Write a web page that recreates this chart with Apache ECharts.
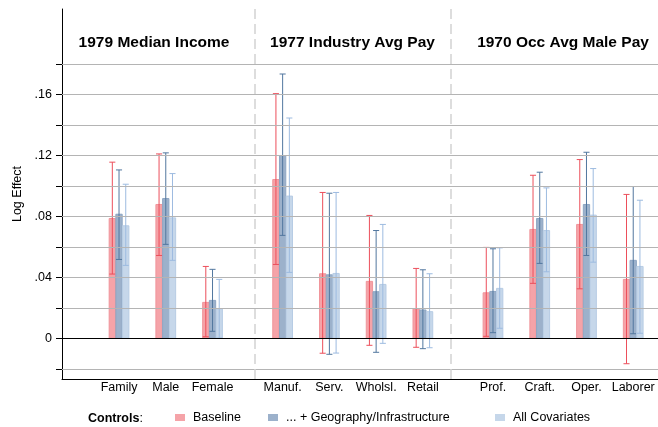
<!DOCTYPE html>
<html>
<head>
<meta charset="utf-8">
<script src="https://cdn.jsdelivr.net/npm/echarts@6/dist/echarts.min.js"></script>
<style>
  html, body { margin: 0; padding: 0; background: #fff; }
  #chart { width: 658px; height: 427px; }
</style>
</head>
<body>
<div id="chart"></div>
<script>
// categories and which panel each one sits in
const categories = ["Family", "Male", "Female", "Manuf.", "Serv.", "Wholsl.", "Retail", "Prof.", "Craft.", "Oper.", "Laborer"];
const panelOf = [0, 0, 0, 1, 1, 1, 1, 2, 2, 2, 2];
const panelTitles = ["1979 Median Income", "1977 Industry Avg Pay", "1970 Occ Avg Male Pay"];
const seriesNames = ["Baseline", "... + Geography/Infrastructure", "All Covariates"];

// point estimates
const baseline  = [0.0787, 0.0879, 0.0236, 0.1043, 0.0424, 0.0374, 0.0194, 0.0299, 0.0715, 0.0748, 0.0387];
const geography = [0.0815, 0.0918, 0.0249, 0.1200, 0.0417, 0.0306, 0.0186, 0.0308, 0.0787, 0.0879, 0.0512];
const allCov    = [0.0739, 0.0791, 0.0194, 0.0934, 0.0426, 0.0354, 0.0175, 0.0328, 0.0708, 0.0809, 0.0472];

// confidence intervals
const baselineLo  = [0.0422, 0.0544, 0.0010, 0.0485, -0.0098, -0.0046, -0.0059, 0.0013, 0.0361, 0.0325, -0.0167];
const baselineHi  = [0.1157, 0.1211, 0.0472, 0.1607, 0.0958, 0.0807, 0.0459, 0.0597, 0.1071, 0.1174, 0.0945];
const geographyLo = [0.0518, 0.0617, 0.0046, 0.0676, -0.0105, -0.0092, -0.0068, 0.0037, 0.0492, 0.0544, 0.0030];
const geographyHi = [0.1106, 0.1218, 0.0453, 0.1736, 0.0953, 0.0708, 0.0450, 0.0588, 0.1091, 0.1222, 0.0997];
const allCovLo    = [0.0479, 0.0512, 0.0001, 0.0433, -0.0097, -0.0033, -0.0062, 0.0066, 0.0437, 0.0500, 0.0033];
const allCovHi    = [0.1012, 0.1082, 0.0387, 0.1447, 0.0958, 0.0748, 0.0424, 0.0594, 0.0988, 0.1115, 0.0907];

// y axis ticks / labels
const yTicks = [-0.02, 0, 0.02, 0.04, 0.06, 0.08, 0.10, 0.12, 0.14, 0.16, 0.18];
const yLabels = [0, 0.04, 0.08, 0.12, 0.16];

const FONT = '"Liberation Sans", Arial, sans-serif';
const BAR_W = 0.135;   // in category units
const CAP_W = 0.13;
const STEP = 0.1436;

// x position: one unit per category, half a unit extra between panels
const xPos = categories.map((c, i) => i + 0.5 * panelOf[i]);

function rows(vals, lo, hi) {
  return vals.map((v, i) => [xPos[i], v, lo[i], hi[i]]);
}

function makeRender(offset, fill, stroke, whisker) {
  return function (params, api) {
    const x = api.value(0) + offset;
    const top = api.coord([x, api.value(1)]);
    const base = api.coord([x, 0]);
    const lo = api.coord([x, api.value(2)]);
    const hi = api.coord([x, api.value(3)]);
    const w = api.size([BAR_W, 0])[0];
    const cap = api.size([CAP_W, 0])[0];
    return {
      type: "group",
      children: [
        {
          type: "rect",
          shape: { x: top[0] - w / 2, y: Math.min(top[1], base[1]), width: w, height: Math.abs(base[1] - top[1]) },
          style: { fill: fill, stroke: stroke, lineWidth: 1 }
        },
        { type: "line", shape: { x1: lo[0], y1: lo[1], x2: hi[0], y2: hi[1] }, style: { stroke: whisker, lineWidth: 1 } },
        { type: "line", shape: { x1: hi[0] - cap / 2, y1: hi[1], x2: hi[0] + cap / 2, y2: hi[1] }, style: { stroke: whisker, lineWidth: 1 } },
        { type: "line", shape: { x1: lo[0] - cap / 2, y1: lo[1], x2: lo[0] + cap / 2, y2: lo[1] }, style: { stroke: whisker, lineWidth: 1 } }
      ]
    };
  };
}

const chart = echarts.init(document.getElementById("chart"));

const legendBase = {
  orient: "horizontal",
  top: 411,
  padding: 0,
  icon: "rect",
  itemWidth: 10,
  itemHeight: 7,
  selectedMode: false,
  textStyle: { fontFamily: FONT, fontSize: 12.5, color: "#000", padding: [0, 0, 0, 3] }
};

const option = {
  animation: false,
  textStyle: { fontFamily: FONT },
  grid: { left: 62, right: 0, top: 9, bottom: 48 },
  legend: [
    Object.assign({}, legendBase, { left: 175, data: [seriesNames[0]] }),
    Object.assign({}, legendBase, { left: 268, data: [seriesNames[1]] }),
    Object.assign({}, legendBase, { left: 495, data: [seriesNames[2]] })
  ],
  graphic: [
    { type: "text", x: 154, y: 43, style: { text: panelTitles[0], font: "bold 15.5px " + FONT, fill: "#000", align: "center", verticalAlign: "middle" } },
    { type: "text", x: 352.5, y: 43, style: { text: panelTitles[1], font: "bold 15.5px " + FONT, fill: "#000", align: "center", verticalAlign: "middle" } },
    { type: "text", x: 563, y: 43, style: { text: panelTitles[2], font: "bold 15.5px " + FONT, fill: "#000", align: "center", verticalAlign: "middle" } },
    {
      type: "text", x: 88, y: 419,
      style: {
        text: "{b|Controls}:",
        font: "12.5px " + FONT, fill: "#000", verticalAlign: "middle",
        rich: { b: { fontWeight: "bold", fontSize: 12.5, fontFamily: FONT } }
      }
    }
  ],
  xAxis: {
    type: "value",
    min: -1.22,
    max: 11.53,
    splitLine: { show: false },
    axisTick: { show: false },
    axisLine: { show: true, onZero: false, lineStyle: { color: "#000", width: 1 } },
    axisLabel: {
      customValues: xPos,
      margin: 2,
      fontSize: 12.5,
      color: "#000",
      formatter: v => categories[xPos.indexOf(v)] || ""
    }
  },
  yAxis: {
    type: "value",
    min: -0.02673,
    max: 0.2163,
    name: "Log Effect",
    nameLocation: "middle",
    nameRotate: 90,
    nameGap: 37,
    nameTextStyle: { fontSize: 12.5, color: "#000" },
    splitLine: { show: false },
    axisLine: { show: true, onZero: false, lineStyle: { color: "#000", width: 1 } },
    axisTick: { show: true, length: 6, customValues: yTicks, lineStyle: { color: "#000" } },
    axisLabel: {
      customValues: yLabels,
      margin: 10,
      fontSize: 12.5,
      color: "#000",
      formatter: v => (v === 0 ? "0" : v.toFixed(2).replace(/^0/, ""))
    }
  },
  series: [
    {
      type: "line",
      data: [],
      z: 1,
      silent: true,
      markLine: {
        silent: true,
        symbol: ["none", "none"],
        label: { show: false },
        emphasis: { disabled: true },
        lineStyle: { color: "#b4b4b4", width: 1, type: "solid" },
        data: yTicks.filter(v => v !== 0).map(v => ({ yAxis: v }))
          .concat([
            { xAxis: 2.91, lineStyle: { color: "#d2d2d2", width: 1.5, type: [10, 5] } },
            { xAxis: 7.104, lineStyle: { color: "#d2d2d2", width: 1.5, type: [10, 5] } },
            { yAxis: 0, lineStyle: { color: "#000", width: 1, type: "solid" } }
          ])
      }
    },
    {
      name: seriesNames[0],
      type: "custom",
      z: 3,
      itemStyle: { color: "#f5a3a8" },
      encode: { x: 0, y: 1 },
      data: rows(baseline, baselineLo, baselineHi),
      renderItem: makeRender(-STEP, "#f5a3a8", "#f0959b", "#ec4f5b")
    },
    {
      name: seriesNames[1],
      type: "custom",
      z: 3,
      itemStyle: { color: "#9cb1cb" },
      encode: { x: 0, y: 1 },
      data: rows(geography, geographyLo, geographyHi),
      renderItem: makeRender(0, "#9cb1cb", "#8ea6c3", "#52779f")
    },
    {
      name: seriesNames[2],
      type: "custom",
      z: 3,
      itemStyle: { color: "#c6d7ea" },
      encode: { x: 0, y: 1 },
      data: rows(allCov, allCovLo, allCovHi),
      renderItem: makeRender(STEP, "#c6d7ea", "#b7cce4", "#9dbbe0")
    }
  ]
};

chart.setOption(option);
</script>
</body>
</html>
